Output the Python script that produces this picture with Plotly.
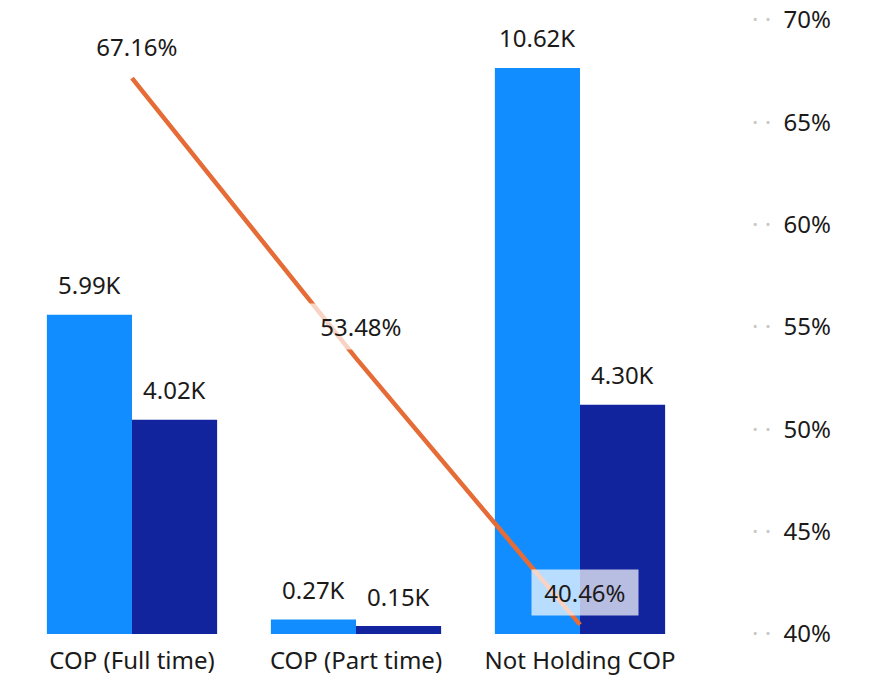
import plotly.graph_objects as go

categories = ["COP (Full time)", "COP (Part time)", "Not Holding COP"]
series_a = [5.99, 0.27, 10.62]
series_b = [4.02, 0.15, 4.30]
rate = [67.16, 53.48, 40.46]
rate_ticks = [40, 45, 50, 55, 60, 65, 70]

BLUE = "#118DFF"
NAVY = "#12239E"
ORANGE = "#E66C37"
FONT = "Segoe UI, Noto Sans, DejaVu Sans, sans-serif"
TXT = "#1b1a19"
FS = 24

fig = go.Figure()
fig.add_trace(go.Bar(x=categories, y=series_a, marker_color=BLUE, marker_line_width=0,
                     name="A", hoverinfo="skip"))
fig.add_trace(go.Bar(x=categories, y=series_b, marker_color=NAVY, marker_line_width=0,
                     name="B", hoverinfo="skip"))
fig.add_trace(go.Scatter(x=categories, y=rate, yaxis="y2", mode="lines",
                         line=dict(color=ORANGE, width=4.5), name="Rate", hoverinfo="skip"))

ann = []
for c, v in zip(categories, series_a):
    ann.append(dict(x=c, y=v, xref="x", yref="y", text=f"{v:.2f}K", showarrow=False,
                    xshift=-42.5, yshift=30, yanchor="middle",
                    bgcolor="rgba(255,255,255,0.7)", borderpad=5))
for c, v in zip(categories, series_b):
    ann.append(dict(x=c, y=v, xref="x", yref="y", text=f"{v:.2f}K", showarrow=False,
                    xshift=42.5, yshift=30, yanchor="middle",
                    bgcolor="rgba(255,255,255,0.7)", borderpad=5))
for c, v in zip(categories, rate):
    ann.append(dict(x=c, y=v, xref="x", yref="y2", text=f"\u00a0{v:.2f}%\u00a0", showarrow=False,
                    xshift=5, yshift=32, yanchor="middle",
                    bgcolor="rgba(255,255,255,0.7)", borderpad=6))

dots = '<span style="color:#c8c8c8">·\u00a0·</span>\u00a0\u00a0'
ticktext = [dots + f"{t}%" for t in rate_ticks]

fig.update_layout(
    width=876, height=684,
    margin=dict(l=20, r=38, t=20, b=50),
    paper_bgcolor="white", plot_bgcolor="white",
    font=dict(family=FONT, size=FS, color=TXT),
    barmode="group", bargap=0.24, bargroupgap=0,
    showlegend=False,
    annotations=ann,
    xaxis=dict(domain=[0, 0.8215], showgrid=False, showline=False, ticks="",
               automargin=False, ticklabelstandoff=10, tickfont=dict(size=FS, color=TXT)),
    yaxis=dict(range=[0, 11.52], visible=False, showgrid=False),
    yaxis2=dict(range=[40, 70], overlaying="y", anchor="free", position=0.8936,
                side="right", tickvals=rate_ticks, ticktext=ticktext,
                showgrid=False, showline=False, ticks="", zeroline=False,
                automargin=False, ticklabeloverflow="allow",
                tickfont=dict(size=FS, color=TXT)),
)

fig.write_html("out.html", config={"displayModeBar": False},
               post_script="document.body.style.margin='0';")
